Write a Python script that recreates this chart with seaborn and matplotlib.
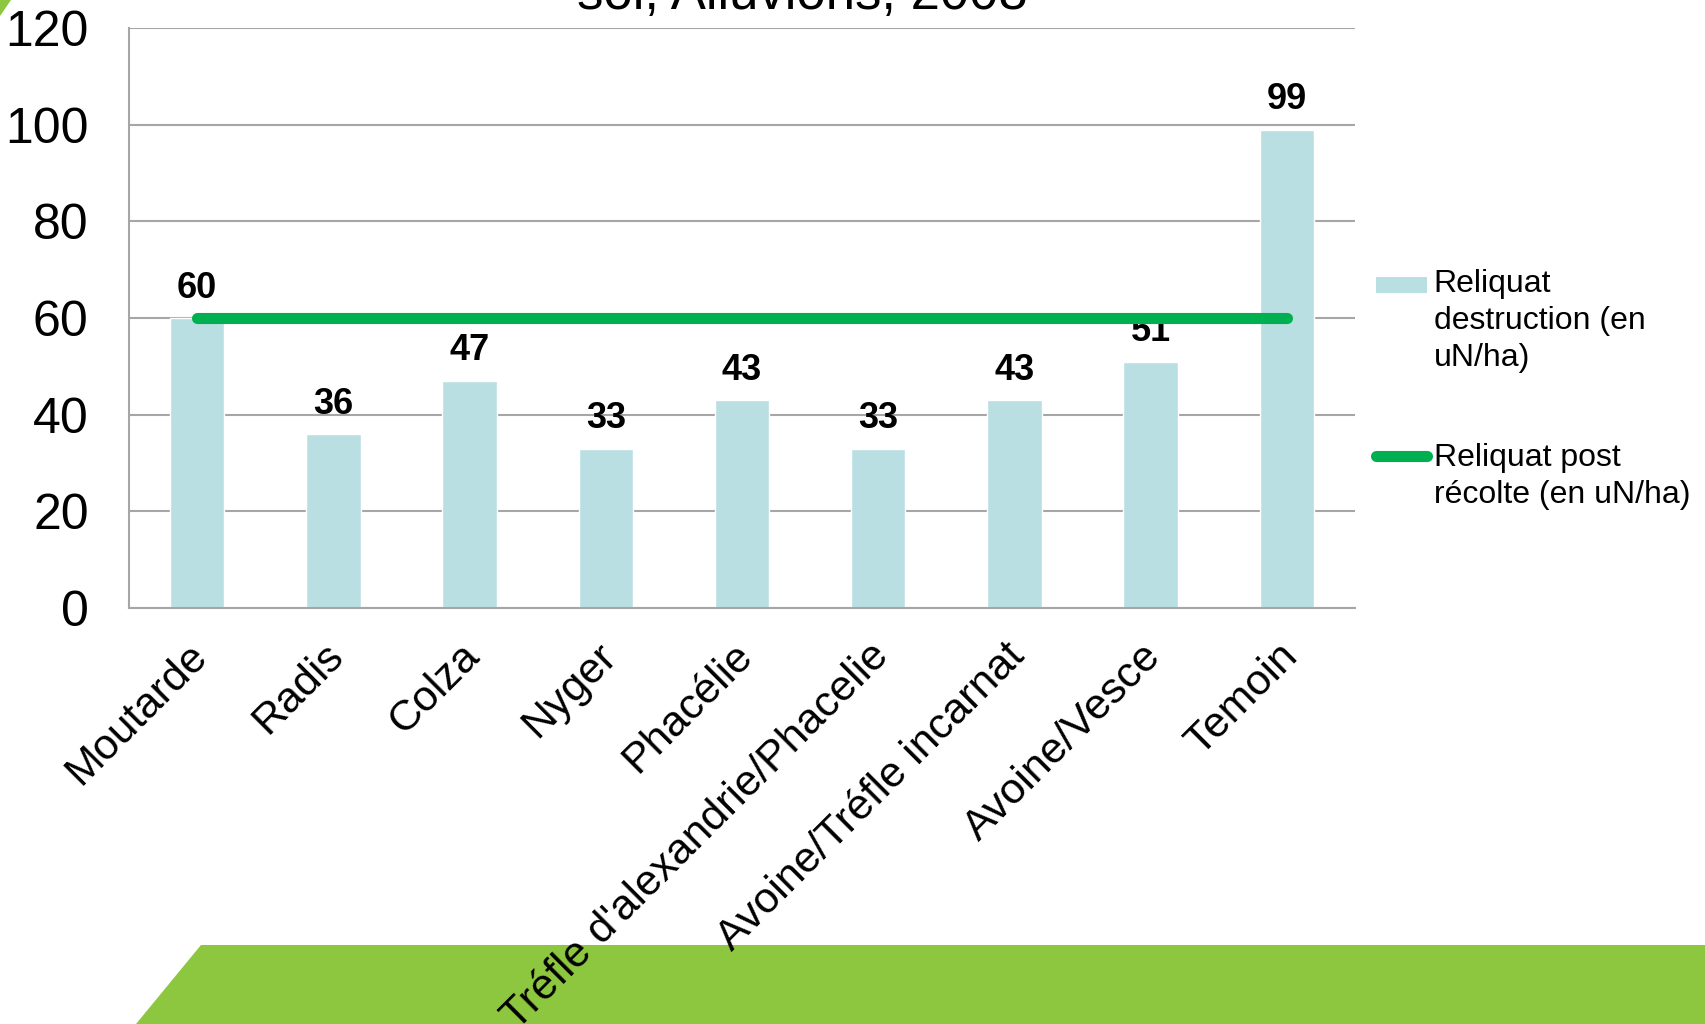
import numpy as np
import matplotlib
matplotlib.use("Agg")
import matplotlib.pyplot as plt
import matplotlib.transforms as mtransforms
from matplotlib.patches import Polygon, Patch, Rectangle
from matplotlib.lines import Line2D
from matplotlib.legend_handler import HandlerPatch
import seaborn as sns

# data
categories = ["Moutarde", "Radis", "Colza", "Nyger", "Phacélie",
              "Tréfle d'alexandrie/Phacelie", "Avoine/Tréfle incarnat",
              "Avoine/Vesce", "Temoin"]
reliquat_destruction = [60, 36, 47, 33, 43, 33, 43, 51, 99]
reliquat_post_recolte = [60, 60, 60, 60, 60, 60, 60, 60, 60]
y_ticks = [0, 20, 40, 60, 80, 100, 120]
title_line = "sol, Alluvions, 2008"
legend_labels = ["Reliquat\ndestruction (en\nuN/ha)",
                 "Reliquat post\nrécolte (en uN/ha)"]

BAR_COLOR = "#BADFE3"
LINE_COLOR = "#00B050"
GRID_COLOR = "#A6A6A6"
BAND_COLOR = "#8DC63F"

sns.set_style("white")
plt.rcParams["font.family"] = ["Liberation Sans", "DejaVu Sans"]
plt.rcParams["text.color"] = "black"
plt.rcParams["xtick.labelcolor"] = "black"
plt.rcParams["ytick.labelcolor"] = "black"

W, H = 1705, 1024
fig = plt.figure(figsize=(W / 100, H / 100), dpi=100)
ax = fig.add_axes([129 / W, 1 - 608 / H, (1355 - 129) / W, (608 - 28) / H])

# background decoration of the slide
fig.patches.append(Polygon([(201 / W, 1 - 945 / H), (1, 1 - 945 / H), (1, 0), (136 / W, 0)],
                           closed=True, transform=fig.transFigure,
                           facecolor=BAND_COLOR, edgecolor="none", zorder=-5))
fig.patches.append(Polygon([(0, 1), (11 / W, 1), (0, 1 - 16 / H)],
                           closed=True, transform=fig.transFigure,
                           facecolor=BAND_COLOR, edgecolor="none", zorder=-5))

sns.barplot(x=categories, y=reliquat_destruction, color=BAR_COLOR, saturation=1,
            width=0.4, ax=ax, zorder=2)
ax.bar_label(ax.containers[0], fmt="%d", padding=9, fontsize=26,
             fontweight="bold", color="black", zorder=3)

sns.lineplot(x=np.arange(len(categories)), y=reliquat_post_recolte, color=LINE_COLOR,
             lw=8, solid_capstyle="round", ax=ax, zorder=4)

ax.set_xlim(-0.5, len(categories) - 0.5)
ax.set_ylim(0, 120)
ax.set_yticks(y_ticks)
ax.set_xticks(np.arange(len(categories)))
ax.set_xticklabels(categories)
ax.set_xticks(np.arange(-0.5, len(categories)), minor=True)
ax.set_xlabel("")
ax.set_ylabel("")

ax.tick_params(axis="x", which="major", length=0, pad=20, labelsize=31)
ax.tick_params(axis="x", which="minor", length=10, width=1.3, color=GRID_COLOR)
ax.tick_params(axis="y", length=9, width=1.3, color=GRID_COLOR, pad=20, labelsize=36)
shift = mtransforms.ScaledTranslation(-10 / 100, 0, fig.dpi_scale_trans)
for lab in ax.get_xticklabels():
    lab.set_rotation(45)
    lab.set_ha("right")
    lab.set_va("top")
    lab.set_rotation_mode("anchor")
    lab.set_transform(lab.get_transform() + shift)

ax.set_axisbelow(True)
ax.yaxis.grid(True, color=GRID_COLOR, lw=1.5)
ax.xaxis.grid(False)
for side in ["top", "right"]:
    ax.spines[side].set_visible(False)
for side in ["left", "bottom"]:
    ax.spines[side].set_color(GRID_COLOR)
    ax.spines[side].set_linewidth(1.5)

# title, cut off by the top of the slide
fig.text(802 / W, 1 - 9 / H, title_line, ha="center", va="baseline", fontsize=38)


def small_rect(legend, orig_handle, xdescent, ydescent, width, height, fontsize):
    ph = 11.5
    return Rectangle((-xdescent, -ydescent + (height - ph) / 2), width, ph)


handles = [Patch(facecolor=BAR_COLOR, edgecolor="none"),
           Line2D([], [], color=LINE_COLOR, lw=8, solid_capstyle="round")]
leg = ax.legend(handles, legend_labels, loc="upper left",
                bbox_to_anchor=(1376 / W, 1 - 269 / H), bbox_transform=fig.transFigure,
                frameon=False, fontsize=23, handlelength=1.6, handleheight=1.15,
                handletextpad=0.2, labelspacing=2.2, borderaxespad=0, borderpad=0,
                handler_map={Patch: HandlerPatch(patch_func=small_rect)})
for t in leg.get_texts():
    t.set_linespacing(1.3)
# put the legend key next to the first line of each label
for col in leg._legend_handle_box.get_children():
    for item in col.get_children():
        item.align = "top"

fig.savefig("out.png", dpi=100)
